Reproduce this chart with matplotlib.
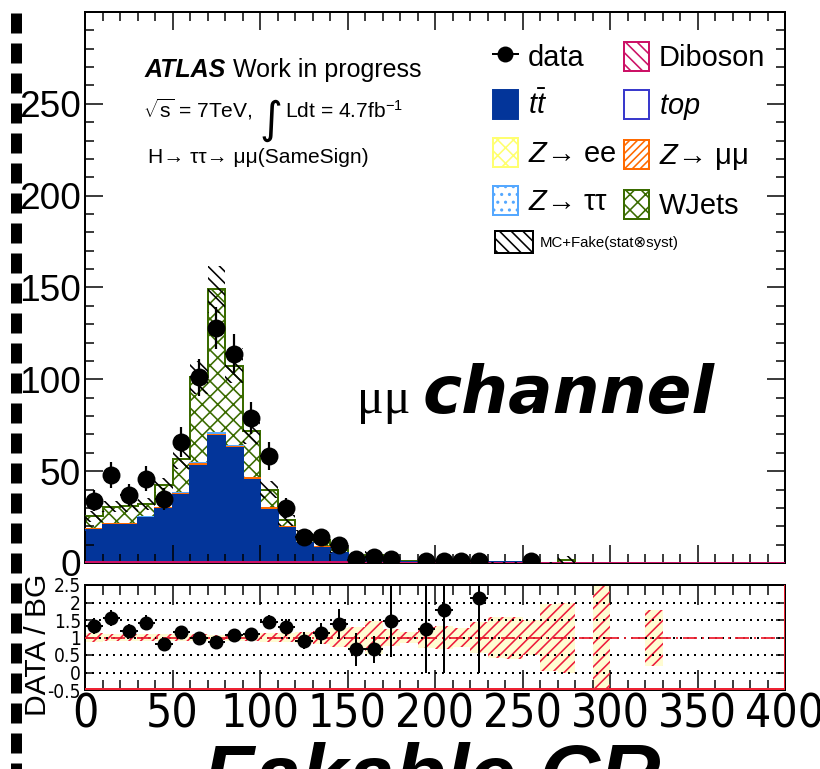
import numpy as np
import matplotlib
matplotlib.use("Agg")
import matplotlib.pyplot as plt
from matplotlib import font_manager
from matplotlib.font_manager import FontProperties
from matplotlib.lines import Line2D
from matplotlib.patches import Patch
from matplotlib.ticker import MultipleLocator

# binning of the mass variable (GeV)
edges = np.arange(0, 410, 10)

data_counts = [34, 48, 37, 46, 35, 66, 101, 128, 114, 79, 58, 30, 14, 14, 10,
               2, 3, 2, 0, 1, 1, 1, 1, 0, 0, 1, 0, 0, 0, 0,
               0, 0, 0, 0, 0, 0, 0, 0, 0, 0]

diboson = [0.3, 0.3, 0.3, 0.3, 0.3, 0.3, 0.3, 0.3, 0.3, 0.3, 0.3, 0.3, 0.3, 0.3, 0.3,
           0, 0, 0, 0, 0, 0, 0, 0, 0, 0, 0, 0, 0, 0, 0,
           0, 0, 0, 0, 0, 0, 0, 0, 0, 0]
single_top = [0.2, 0.2, 0.2, 0.2, 0.2, 0.2, 0.2, 0.2, 0.2, 0.2, 0.2, 0.2, 0.2, 0.2, 0.2,
              0, 0, 0, 0, 0, 0, 0, 0, 0, 0, 0, 0, 0, 0, 0,
              0, 0, 0, 0, 0, 0, 0, 0, 0, 0]
ttbar = [17.5, 20.2, 20.2, 23.9, 28.8, 36.6, 52.5, 68.5, 62.1, 44.8, 28.4, 18.4, 10.2, 7.9, 4.8,
         2.5, 2.0, 0.9, 0.7, 0.6, 0.4, 0.3, 0.35, 0.3, 0.3, 0.25, 0.15, 0.1, 0, 0.05,
         0, 0, 0.1, 0, 0, 0, 0, 0, 0, 0]
z_ee = [0, 0, 0, 0, 0, 0, 0, 0, 0, 0, 0, 0, 0, 0, 0,
        0, 0, 0, 0, 0, 0, 0, 0, 0, 0, 0, 0, 0, 0, 0,
        0, 0, 0, 0, 0, 0, 0, 0, 0, 0]
z_mumu = [0.3, 0.3, 0.3, 0.3, 0.4, 0.5, 1.0, 0.6, 0.5, 0.8, 0.8, 0.6, 0.3, 0.2, 0.1,
          0, 0, 0, 0, 0, 0, 0, 0, 0, 0, 0, 0, 0, 0, 0,
          0, 0, 0, 0, 0, 0, 0, 0, 0, 0]
z_tautau = [0.2, 0.2, 0.2, 0.2, 0.3, 0.3, 0.4, 1.0, 0.6, 0.4, 0.3, 0.2, 0.1, 0.1, 0.1,
            0, 0, 0, 0, 0, 0, 0, 0, 0, 0, 0, 0, 0, 0, 0,
            0, 0, 0, 0, 0, 0, 0, 0, 0, 0]
wjets = [7.0, 9.4, 9.8, 7.4, 12.3, 18.6, 46.6, 78.4, 43.8, 25.5, 10.0, 3.5, 4.3, 3.8, 1.7,
         0.5, 2.5, 0.45, 0.3, 0.21, 0.16, 0.05, 0.12, 0.1, 0.05, 0.05, 0.05, 1.7, 0, 0,
         0, 0, 0, 0, 0, 0, 0, 0, 0, 0]

# relative MC+fake uncertainty (stat x syst) per bin
rel_unc = [0.12, 0.10, 0.10, 0.10, 0.10, 0.09, 0.09, 0.085, 0.09, 0.10, 0.12, 0.13, 0.15, 0.18, 0.28,
           0.30, 0.48, 0.25, 0.17, 0.30, 0.32, 0.27, 0.45, 0.58, 0.60, 0.50, 0.95, 1.0, 0, 2.0,
           0, 0, 0.8, 0, 0, 0, 0, 0, 0, 0]

x_ticks = [0, 50, 100, 150, 200, 250, 300, 350, 400]
y_ticks = [0, 50, 100, 150, 200, 250]
ratio_ticks = [-0.5, 0, 0.5, 1, 1.5, 2, 2.5]
ratio_labels = ["-0.5", "0", "0.5", "1", "1.5", "2", "2.5"]

DPI = 140
W, H = 820, 769


def pt(px):
    return px * 72.0 / DPI


def fx(x):
    return x / W


def fy(y):
    return 1 - y / H


def narrow_font():
    # look for a condensed sans face for the axis numbers
    for fam, stretch in [("Liberation Sans Narrow", "normal"), ("DejaVu Sans", "condensed"),
                         ("Noto Sans", "condensed"), ("Noto Sans Condensed", "normal"),
                         ("Roboto Condensed", "normal")]:
        prop = FontProperties(family=fam, stretch=stretch)
        try:
            path = font_manager.findfont(prop, fallback_to_default=False)
        except ValueError:
            continue
        low = path.lower()
        if "narrow" in low or "condensed" in low:
            return prop
    return None


plt.rcParams["font.family"] = ["Liberation Sans", "DejaVu Sans"]
plt.rcParams["mathtext.fontset"] = "custom"
plt.rcParams["mathtext.rm"] = "Liberation Sans"
plt.rcParams["mathtext.it"] = "Liberation Sans:italic"
plt.rcParams["mathtext.bf"] = "Liberation Sans:bold"
plt.rcParams["hatch.linewidth"] = pt(1.6)
plt.rcParams["lines.scale_dashes"] = False

TT = "#03359a"
WJ = "#3a6b00"
ZEE = "#ffff70"
ZTT = "#55a8ff"
ZMM = "#ff6a00"
DIB = "#cc1166"
TOP = "#3a3acc"
narrow = narrow_font()

centers = 0.5 * (edges[:-1] + edges[1:])
data = np.array(data_counts, dtype=float)
layers = [
    (np.array(diboson), DIB, None, False),
    (np.array(single_top), TOP, None, False),
    (np.array(ttbar), TT, None, True),
    (np.array(z_ee), ZEE, "xxx", False),
    (np.array(z_mumu), ZMM, "//////", False),
    (np.array(z_tautau), ZTT, "...", False),
    (np.array(wjets), WJ, "xxx", False),
]
total = np.sum([l[0] for l in layers], axis=0)
rel = np.array(rel_unc)

fig = plt.figure(figsize=(W / DPI, H / DPI), dpi=DPI)
ax = fig.add_axes([fx(85), fy(563), fx(785) - fx(85), fy(12) - fy(563)])
rax = fig.add_axes([fx(85), fy(690), fx(785) - fx(85), fy(585) - fy(690)])

# stacked backgrounds
bottom = np.zeros_like(total)
tops = []
for vals, col, hatch, solid in layers:
    top = bottom + vals
    if solid:
        ax.stairs(top, edges, baseline=bottom, fill=True, facecolor=col, edgecolor=col, lw=0)
    elif hatch:
        ax.stairs(top, edges, baseline=bottom, fill=True, facecolor="none",
                  edgecolor=col, hatch=hatch, lw=0)
    tops.append((top, col))
    bottom = top
for top, col in reversed(tops):
    ax.stairs(top, edges, baseline=None, color=col, lw=pt(2), zorder=3)

# MC uncertainty band
has_mc = total > 0
ax.bar(centers[has_mc], (2 * rel * total)[has_mc], bottom=(total * (1 - rel))[has_mc],
       width=10, facecolor="none", edgecolor="k", hatch="\\\\\\\\", lw=0, zorder=4)

# data
sel = data > 0
ax.errorbar(centers[sel], data[sel], yerr=np.sqrt(data[sel]), xerr=5, fmt="o", color="k",
            ms=pt(16), elinewidth=pt(2.2), capsize=0, zorder=6)

ax.set_xlim(0, 400)
ax.set_ylim(0, 300)
ax.set_yticks(y_ticks)
ax.xaxis.set_major_locator(MultipleLocator(50))
ax.xaxis.set_minor_locator(MultipleLocator(10))
ax.yaxis.set_minor_locator(MultipleLocator(10))
ax.tick_params(which="both", direction="in", top=True, right=True, width=pt(1.5))
ax.tick_params(which="major", length=pt(18))
ax.tick_params(which="minor", length=pt(9))
ax.tick_params(axis="x", labelbottom=False)
ax.tick_params(axis="y", labelsize=pt(37), pad=pt(4))
for s in ax.spines.values():
    s.set_linewidth(pt(2))

# ratio panel
ratio = np.where(has_mc, data / np.where(has_mc, total, 1), np.nan)
rerr = np.where(has_mc, np.sqrt(data) / np.where(has_mc, total, 1), np.nan)
rsel = (data > 0) & has_mc & (ratio <= 2.5)

rax.bar(centers[has_mc], 2 * rel[has_mc], bottom=1 - rel[has_mc], width=10,
        facecolor="#fffcd2", edgecolor="none", lw=0, zorder=1)
rax.bar(centers[has_mc], 2 * rel[has_mc], bottom=1 - rel[has_mc], width=10,
        facecolor="none", edgecolor="#ee1c3c", hatch="////", lw=0, zorder=2)
for yv in [0, 0.5, 1, 1.5, 2]:
    rax.axhline(yv, color="k", lw=pt(2), ls=(0, (pt(2), pt(5))), zorder=3)
rax.axhline(1, color="#ee2233", lw=pt(1.8), ls=(0, (pt(14), pt(5), pt(2), pt(5))), zorder=3)
rax.axhline(-0.5, color="#ee2233", lw=pt(4), zorder=3)
rax.axvline(400, color="#ee2233", lw=pt(3), zorder=3)
rax.errorbar(centers[rsel], ratio[rsel], yerr=rerr[rsel], xerr=5, fmt="o", color="k",
             ms=pt(12), elinewidth=pt(2), capsize=0, zorder=5)

rax.set_xlim(0, 400)
rax.set_ylim(-0.5, 2.5)
rax.set_yticks(ratio_ticks)
rax.set_yticklabels(ratio_labels)
rax.set_xticks(x_ticks)
rax.xaxis.set_minor_locator(MultipleLocator(10))
rax.tick_params(which="both", direction="in", top=True, right=True, width=pt(1.5))
rax.tick_params(axis="x", which="major", length=pt(20))
rax.tick_params(axis="x", which="minor", length=pt(10))
rax.tick_params(axis="y", which="major", length=pt(9))
if narrow is not None:
    rax.tick_params(axis="x", pad=pt(3))
    rax.tick_params(axis="y", pad=pt(4))
    for lab in rax.get_xticklabels():
        lab.set_fontproperties(narrow)
        lab.set_fontsize(pt(46))
    for lab in rax.get_yticklabels():
        lab.set_fontproperties(narrow)
        lab.set_fontsize(pt(19))
else:
    rax.tick_params(axis="x", labelsize=pt(41), pad=pt(6))
    rax.tick_params(axis="y", labelsize=pt(17), pad=pt(4))
for s in rax.spines.values():
    s.set_linewidth(pt(2))

fig.text(fx(38), fy(645), "DATA / BG", rotation=90, ha="center", va="center", fontsize=pt(30))

# header texts
fig.text(fx(145), fy(77), "ATLAS", fontsize=pt(25), fontweight="bold", fontstyle="italic")
fig.text(fx(233), fy(77), "Work in progress", fontsize=pt(25))
fig.text(fx(143), fy(118), r"$\sqrt{\mathrm{s}}$ = 7TeV,", fontsize=pt(21))
fig.text(fx(271), fy(121), "\u222b", fontsize=pt(44), ha="center", va="center",
         family=["DejaVu Sans"])
fig.text(fx(285), fy(118), r"Ldt = 4.7fb$^{\mathrm{-1}}$", fontsize=pt(21))
fig.text(fx(148), fy(163), "H\u2192 \u03c4\u03c4\u2192 \u03bc\u03bc(SameSign)", fontsize=pt(21))

# legend
handles = [
    Line2D([], [], color="k", marker="o", ms=pt(14), lw=pt(2)),
    Patch(facecolor=TT, edgecolor=TT),
    Patch(facecolor="none", edgecolor=ZEE, hatch="xxx", lw=pt(2)),
    Patch(facecolor="none", edgecolor=ZTT, hatch="...", lw=pt(2)),
    Patch(facecolor="none", edgecolor=DIB, hatch="\\\\\\\\", lw=pt(2)),
    Patch(facecolor="none", edgecolor=TOP, lw=pt(2)),
    Patch(facecolor="none", edgecolor=ZMM, hatch="//////", lw=pt(2)),
    Patch(facecolor="none", edgecolor=WJ, hatch="xxx", lw=pt(2)),
]
labels = ["data", "$t\\bar{t}$", "$Z$\u2192 ee", "$Z$\u2192 \u03c4\u03c4",
          "Diboson", "$top$", "$Z$\u2192 \u03bc\u03bc", "WJets"]
leg = fig.legend(handles, labels, ncol=2, loc="upper left",
                 bbox_to_anchor=(fx(493), fy(42)), bbox_transform=fig.transFigure,
                 frameon=False, fontsize=pt(29), handlelength=0.86, handleheight=1.14,
                 handletextpad=0.35, columnspacing=0.25, labelspacing=0.62,
                 borderpad=0, borderaxespad=0)
leg2 = fig.legend([Patch(facecolor="none", edgecolor="k", hatch="\\\\\\\\", lw=pt(2))],
                  ["MC+Fake(stat\u2297syst)"], loc="upper left",
                  bbox_to_anchor=(fx(495), fy(231)), bbox_transform=fig.transFigure,
                  frameon=False, prop={"size": pt(15), "family": ["Liberation Sans", "DejaVu Sans"]},
                  handlelength=2.5, handleheight=1.9, handletextpad=0.5,
                  borderpad=0, borderaxespad=0)

# channel label
fig.text(fx(357), fy(413), "\u03bc\u03bc", fontsize=pt(50), family=["Liberation Serif"])
fig.text(fx(423), fy(413), "channel", fontsize=pt(66), family=["DejaVu Sans"],
         fontweight="bold", fontstyle="italic")

# control region label running off the bottom edge
fig.text(fx(432), fy(803), "Fakable CR", fontsize=pt(84), ha="center", va="baseline",
         fontweight="bold", fontstyle="italic")

# dashed guide bar on the left edge
fig.add_artist(Line2D([fx(16), fx(16)], [fy(13), 0], transform=fig.transFigure, color="k",
                      lw=pt(11), ls=(0, (pt(20), pt(10))), dash_capstyle="butt"))

fig.savefig("out.png", dpi=DPI)
